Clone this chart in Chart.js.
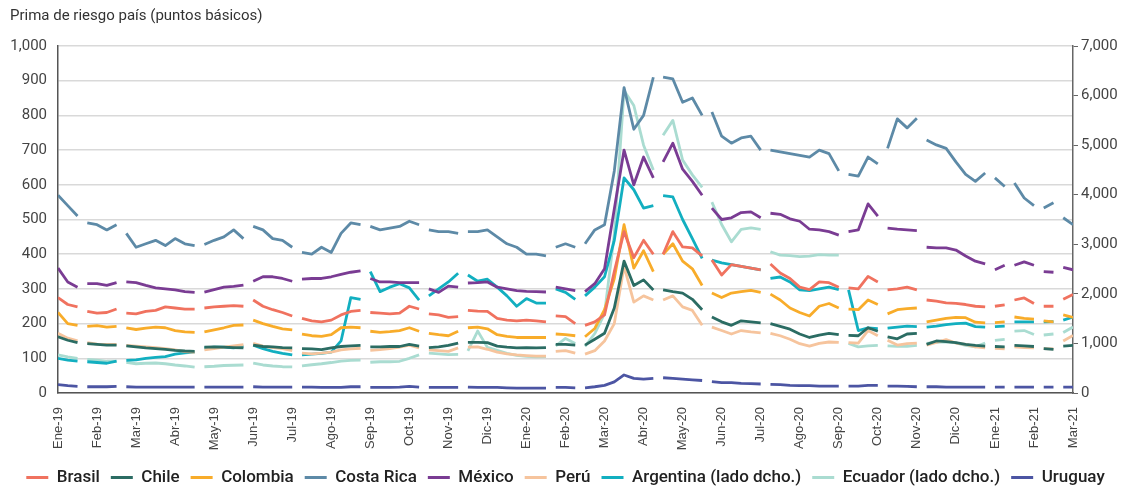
<!DOCTYPE html>
<html lang="es">
<head>
<meta charset="UTF-8">
<title>Prima de riesgo país</title>
<script src="https://cdn.jsdelivr.net/npm/chart.js"></script>
<style>
  html, body { margin: 0; padding: 0; background: #fff; overflow: hidden; }
  #caja { width: 1121px; height: 491px; }
</style>
</head>
<body>
<div id="caja"><canvas id="grafico"></canvas></div>
<script>
const meses = ['Ene-19','Feb-19','Mar-19','Abr-19','May-19','Jun-19','Jul-19','Ago-19','Sep-19','Oct-19','Nov-19','Dic-19',
  'Ene-20','Feb-20','Mar-20','Abr-20','May-20','Jun-20','Jul-20','Ago-20','Sep-20','Oct-20','Nov-20','Dic-20',
  'Ene-21','Feb-21','Mar-21'];

// una observación por semana, posición en meses desde Ene-19
const semanas = Array.from({length: 105}, (_, i) => i / 4);

// días sin dato (cortes de la línea)
const cortes = [0.65, 1.6, 3.6, 4.8, 6.1, 7.95, 9.3, 10.3, 12.55, 13.45, 15.3, 16.65, 18.05, 20.05, 21.2, 22.1, 23.85, 24.4, 25.05, 25.55];

const brasil = [275,255,248,235, 230,232,242,230, 228,235,238,248, 245,242,242,245, 248,250,252,250, 268,250,240,232,
  222,215,208,205, 210,225,235,238, 232,230,228,230, 250,242,228,225, 218,220,238,236, 235,215,210,208,
  210,208,205,222, 220,200,195,205, 225,350,465,390, 440,400,400,465, 421,418,395,383, 340,370,365,360,
  355,372,346,330, 305,298,320,318, 305,303,300,336, 320,297,300,305, 297,268,265,260, 258,255,250,248,
  250,254,268,274, 258,250,250,270, 284];

const chile = [162,152,145,142, 140,138,138,136, 133,130,128,126, 123,121,120,132, 133,132,131,130, 138,134,133,131,
  130,128,127,125, 130,134,136,137, 133,133,134,134, 140,135,131,133, 137,144,146,146, 145,135,132,130,
  131,130,131,140, 140,138,138,155, 172,245,380,310, 326,297,297,292, 288,270,240,219, 205,195,208,205,
  202,200,192,184, 170,160,167,172, 168,166,165,188, 178,162,156,170, 172,140,150,148, 145,140,137,135,
  134,133,137,136, 134,128,126,135, 137];

const colombia = [232,200,195,192, 194,190,192,188, 183,187,190,188, 180,176,175,176, 182,188,195,196, 210,200,192,185,
  182,170,165,163, 168,188,190,188, 178,175,177,180, 188,178,172,168, 165,178,188,190, 185,168,163,160,
  160,160,160,170, 168,165,162,186, 240,330,485,360, 410,350,400,430, 380,358,310,288, 275,288,292,296,
  290,285,268,245, 232,222,250,258, 245,242,240,268, 255,228,240,243, 245,205,210,215, 218,217,204,202,
  203,205,219,215, 213,208,205,225, 218];

const costaRica = [570,540,510,490, 485,470,485,460, 420,430,440,425, 445,430,425,428, 440,450,470,445, 480,470,445,440,
  420,405,400,420, 405,460,490,485, 480,470,475,480, 495,485,470,465, 465,460,465,465, 470,450,430,420,
  400,400,395,420, 430,420,430,470, 485,640,880,760, 800,910,910,905, 838,850,800,810, 740,720,735,740,
  700,700,695,690, 685,680,700,690, 640,630,625,680, 660,705,790,764, 792,729,715,705, 666,630,610,634,
  620,595,605,562, 540,533,548,505, 485];

const mexico = [360,320,305,315, 315,310,318,320, 318,310,303,300, 297,292,290,291, 298,305,307,311, 322,335,335,330,
  322,328,330,330, 335,342,348,352, 330,320,320,318, 318,318,300,290, 308,305,317,318, 320,305,300,295,
  293,292,291,305, 300,295,292,315, 358,530,700,600, 680,620,666,720, 645,610,570,533, 500,505,520,522,
  505,518,515,502, 495,472,470,465, 455,465,470,545, 510,475,472,470, 468,420,418,418, 412,395,380,372,
  355,368,368,378, 368,350,348,362, 355];

const peru = [172,158,150,145, 141,140,140,137, 135,133,131,128, 124,119,117,124, 128,132,136,139, 143,135,131,128,
  122,115,113,115, 118,124,127,129, 123,125,128,132, 138,130,124,122, 120,130,132,133, 126,118,113,110,
  108,106,106,120, 122,115,112,122, 150,200,365,262, 280,268,268,280, 248,238,195,190, 180,170,180,176,
  173,172,165,155, 142,135,143,147, 146,145,144,180, 165,152,138,142, 144,138,146,154, 144,140,133,130,
  129,127,133,131, 130,128,127,150, 166];

// eje derecho
const argentina = [700,665,645,630, 615,600,645,660, 670,700,720,735, 785,810,825,910, 925,925,910,945, 965,895,840,800,
  770,770,785,800, 825,1050,1925,1890, 2450,2045,2135,2205, 2120,1875,1960,2100, 2240,2415,2380,2255, 2295,2135,1960,1750,
  1905,1815,1815,2100, 2030,1890,1960,2135, 2345,3080,4340,4100, 3730,3780,3980,3955, 3500,3115,2715,2680, 2625,2590,2555,2520,
  2485,2310,2340,2240, 2080,2065,2100,2135, 2085,2080,1260,1315, 1300,1310,1330,1350, 1340,1330,1350,1380, 1400,1410,1340,1330,
  1340,1350,1435,1435, 1435,1435,1440,1470, 1530];

const ecuador = [770,730,700,680, 665,640,640,620, 590,600,605,590, 565,545,520,530, 540,555,560,565, 605,565,545,530,
  525,545,570,590, 615,645,660,665, 620,630,630,640, 700,770,805,790, 775,780,850,1250, 920,860,800,760,
  740,730,735,950, 1100,1000,940,1200, 1600,3200,6100,5800, 5000,4500,5200,5500, 4700,4400,4150,3850, 3400,3050,3300,3330,
  3300,2850,2780,2770, 2750,2760,2790,2780, 2780,1000,930,950, 960,950,940,940, 960,1000,1020,1030, 1010,960,930,1010,
  1060,1080,1250,1260, 1180,1170,1190,1220, 1330];

const uruguay = [24,21,19,18, 18,18,19,18, 17,17,17,17, 17,17,17,17, 17,17,17,17, 18,17,17,17,
  17,17,17,16, 16,16,18,18, 16,16,16,17, 19,17,16,16, 16,16,17,16, 16,16,15,14,
  14,14,14,16, 16,15,15,18, 22,32,52,42, 40,42,44,42, 40,38,36,33, 30,30,28,27,
  26,25,24,22, 21,21,20,20, 20,20,20,22, 22,20,20,19, 18,18,18,17, 17,17,17,17,
  17,17,17,17, 17,17,17,17, 17];

const series = [
  { nombre: 'Brasil', valores: brasil, color: '#f0725f', eje: 'y' },
  { nombre: 'Chile', valores: chile, color: '#2b6c63', eje: 'y' },
  { nombre: 'Colombia', valores: colombia, color: '#f8ac2a', eje: 'y' },
  { nombre: 'Costa Rica', valores: costaRica, color: '#5d8aa7', eje: 'y' },
  { nombre: 'México', valores: mexico, color: '#7a3c93', eje: 'y' },
  { nombre: 'Perú', valores: peru, color: '#f6c49d', eje: 'y' },
  { nombre: 'Argentina (lado dcho.)', valores: argentina, color: '#12afc0', eje: 'y1' },
  { nombre: 'Ecuador (lado dcho.)', valores: ecuador, color: '#aadcd1', eje: 'y1' },
  { nombre: 'Uruguay', valores: uruguay, color: '#4c55a3', eje: 'y' }
];

function puntos(valores) {
  const pts = semanas.map((x, i) => ({ x: x, y: valores[i] }));
  cortes.forEach(c => pts.push({ x: c, y: null }));
  return pts.sort((a, b) => a.x - b.x);
}

const etiquetasBase = Chart.defaults.plugins.legend.labels.generateLabels;

const ctx = document.getElementById('grafico').getContext('2d');
new Chart(ctx, {
  type: 'line',
  data: {
    datasets: series.map(s => ({
      label: s.nombre,
      data: puntos(s.valores),
      yAxisID: s.eje,
      borderColor: s.color,
      backgroundColor: s.color,
      borderWidth: 2.8,
      pointRadius: 0,
      tension: 0,
      spanGaps: false,
      borderJoinStyle: 'round'
    }))
  },
  options: {
    responsive: true,
    maintainAspectRatio: false,
    animation: false,
    layout: { padding: { left: 10, right: 0, top: 7, bottom: -5 } },
    plugins: {
      tooltip: { enabled: false },
      title: {
        display: true,
        text: 'Prima de riesgo país (puntos básicos)',
        align: 'start',
        color: '#333',
        font: { family: 'Roboto', size: 15, weight: 'normal' },
        padding: { top: 0, bottom: 21 }
      },
      legend: {
        position: 'bottom',
        labels: {
          boxWidth: 22,
          boxHeight: 3,
          padding: 11,
          color: '#222',
          font: { family: 'Roboto', size: 17, weight: '500' },
          generateLabels: chart => etiquetasBase(chart).map(l => Object.assign(l, { lineWidth: 0 }))
        }
      }
    },
    scales: {
      x: {
        type: 'linear',
        min: 0,
        max: 26,
        afterFit: s => { s.height = 65; },
        grid: { display: false },
        border: { display: true, color: '#555', width: 1.5 },
        ticks: {
          stepSize: 1,
          autoSkip: false,
          maxRotation: 90,
          minRotation: 90,
          padding: 6,
          color: '#444',
          font: { family: "'Liberation Sans', Arial, sans-serif", size: 13 },
          callback: v => meses[Math.round(v)]
        }
      },
      y: {
        position: 'left',
        min: 0,
        max: 1000,
        afterFit: s => { s.width = 48; },
        grid: { color: '#d9d9d9', lineWidth: 1.5, drawTicks: false },
        border: { display: true, color: '#555', width: 1.5 },
        ticks: {
          stepSize: 100,
          padding: 11,
          color: '#444',
          font: { family: 'Roboto', size: 15 },
          callback: v => v.toLocaleString('en-US')
        }
      },
      y1: {
        position: 'right',
        min: 0,
        max: 7000,
        afterFit: s => { s.width = 48; },
        grid: { drawOnChartArea: false, drawTicks: true, tickLength: 5, color: '#666' },
        border: { display: true, color: '#666', width: 1.5 },
        ticks: {
          stepSize: 1000,
          padding: 3,
          color: '#444',
          font: { family: 'Roboto', size: 15 },
          callback: v => v.toLocaleString('en-US')
        }
      }
    }
  }
});
</script>
</body>
</html>
